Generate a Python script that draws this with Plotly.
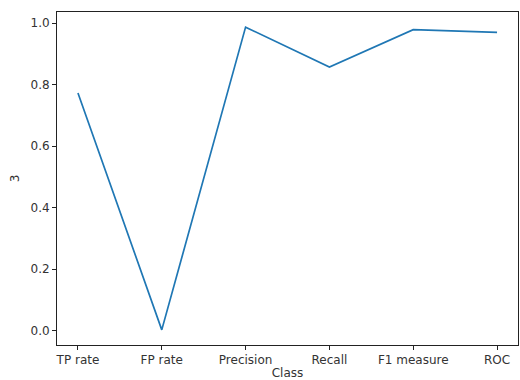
import plotly.graph_objects as go

# Evaluation metrics for class "3"
metrics = ["TP rate", "FP rate", "Precision", "Recall", "F1 measure", "ROC"]
scores = [0.773, 0.003, 0.987, 0.857, 0.979, 0.970]
y_ticks = [0.0, 0.2, 0.4, 0.6, 0.8, 1.0]
y_tick_labels = ["0.0", "0.2", "0.4", "0.6", "0.8", "1.0"]

pad = 0.05 * (max(scores) - min(scores))

fig = go.Figure(
    go.Scatter(
        x=list(range(len(metrics))),
        y=scores,
        mode="lines",
        line=dict(color="#1f77b4", width=1.7),
        hoverinfo="skip",
    )
)

font = dict(family="DejaVu Sans", size=12, color="#333333")

fig.update_layout(
    width=520,
    height=380,
    margin=dict(l=57, r=2, t=12, b=35),
    paper_bgcolor="white",
    plot_bgcolor="white",
    showlegend=False,
    font=font,
)

fig.update_xaxes(
    range=[-0.25, len(metrics) - 1 + 0.25],
    tickmode="array",
    tickvals=list(range(len(metrics))),
    ticktext=metrics,
    ticks="outside",
    ticklen=4,
    tickwidth=1,
    tickcolor="#222222",
    showline=True,
    linecolor="#222222",
    linewidth=1,
    mirror=True,
    showgrid=False,
    zeroline=False,
    title=dict(text="Class", font=font, standoff=2),
)

fig.update_yaxes(
    range=[min(scores) - pad, max(scores) + pad],
    tickmode="array",
    tickvals=y_ticks,
    ticktext=y_tick_labels,
    ticks="outside",
    ticklen=4,
    tickwidth=1,
    tickcolor="#222222",
    showline=True,
    linecolor="#222222",
    linewidth=1,
    mirror=True,
    showgrid=False,
    zeroline=False,
    title=dict(text="3", font=font, standoff=8),
)

fig.write_html("out.html")
